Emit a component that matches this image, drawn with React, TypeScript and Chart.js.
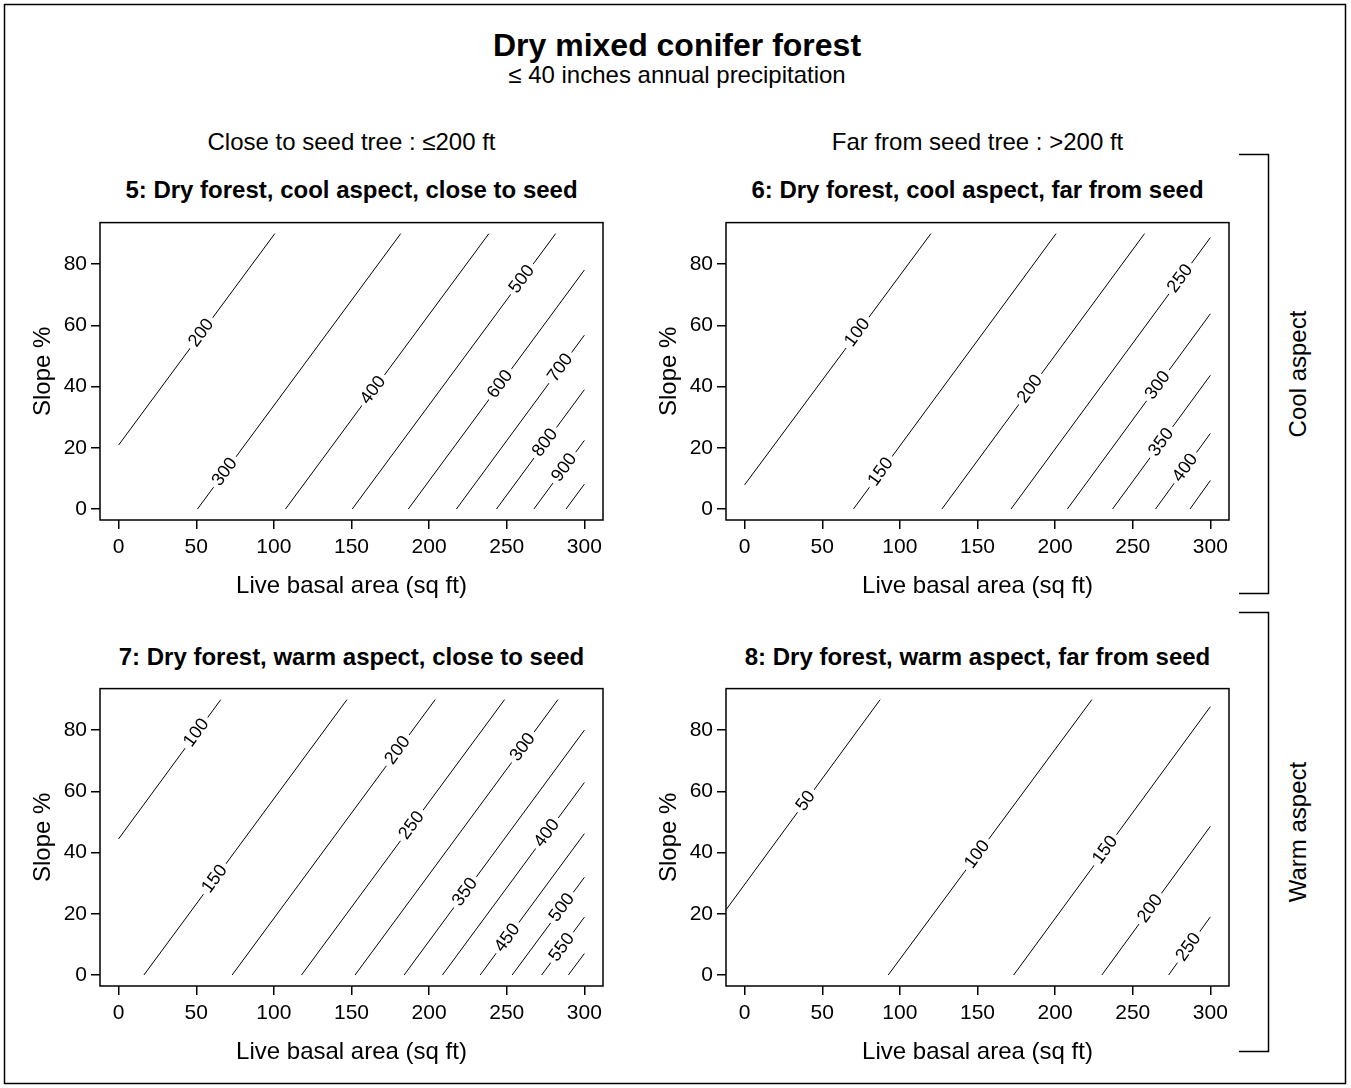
import React, { useEffect, useRef } from 'react';
import { Chart, registerables } from 'chart.js';

Chart.register(...registerables);

const FONT = '"Liberation Sans", Arial, Helvetica, sans-serif';

// Axes
const xTickValues = [0, 50, 100, 150, 200, 250, 300];
const yTickValues = [0, 20, 40, 60, 80];
const xMin = -12;
const xMax = 312;
const yMin = -3.6;
const yMax = 93.6;

// Panel 5: Dry forest, cool aspect, close to seed
const p5Levels = [200, 300, 400, 500, 600, 700, 800, 900, 1000];
const p5StartX = [0, 50.8, 107.5, 150.5, 186.6, 217.6, 243.4, 267.5, 288.2];
const p5StartY = [20.9, 0, 0, 0, 0, 0, 0, 0, 0];
const p5EndX = [100.6, 181.7, 238.5, 281.5, 300, 300, 300, 300, 300];
const p5EndY = [90, 90, 90, 90, 78.1, 56.8, 39, 22.4, 8.1];
const p5LabelX = [53.3, 68.4, 164, 259.8, 245.8, 284.5, 274.8, 287.1, null];

// Panel 6: Dry forest, cool aspect, far from seed
const p6Levels = [100, 150, 200, 250, 300, 350, 400, 450];
const p6StartX = [0, 70.1, 127.1, 171.6, 207.9, 237, 264.7, 286.9];
const p6StartY = [7.9, 0, 0, 0, 0, 0, 0, 0];
const p6EndX = [120, 200.6, 257.6, 300, 300, 300, 300, 300];
const p6EndY = [90, 90, 90, 88.7, 63.8, 43.7, 24.7, 9.3];
const p6LabelX = [72.7, 87.7, 183.9, 280.6, 266.2, 268.4, 283.9, null];

// Panel 7: Dry forest, warm aspect, close to seed
const p7Levels = [100, 150, 200, 250, 300, 350, 400, 450, 500, 550, 600];
const p7StartX = [0, 16.3, 73.1, 117.8, 152.3, 183.9, 208.6, 232.9, 253.5, 272.5, 289.7];
const p7StartY = [44.5, 0, 0, 0, 0, 0, 0, 0, 0, 0, 0];
const p7EndX = [65.8, 147.1, 203.9, 248.6, 283, 300, 300, 300, 300, 300, 300];
const p7EndY = [90, 90, 90, 90, 90, 80, 62.9, 46.2, 31.9, 18.9, 7];
const p7LabelX = [50.1, 61.9, 179.8, 188.8, 260.4, 223.2, 275.9, 250.5, 285.6, 285.6, null];

// Panel 8: Dry forest, warm aspect, far from seed
const p8Levels = [50, 100, 150, 200, 250];
const p8StartX = [-12, 92.5, 173.3, 230.1, 273.1];
const p8StartY = [21.3, 0, 0, 0, 0];
const p8EndX = [87.3, 223.7, 300, 300, 300];
const p8EndY = [90, 90, 87.7, 48.6, 19];
const p8LabelX = [39.4, 149.9, 232.3, 261.3, 286];

// Layout (pixels)
const BOX_W = 503;
const BOX_H = 304;
const AXIS_W = 100;
const AXIS_H = 85;
const PAD_T = 10;
const PAD_R = 10;

const boxPlugin = {
  id: 'boxFrame',
  afterDraw(chart: any) {
    const { ctx, chartArea } = chart;
    ctx.save();
    ctx.strokeStyle = '#000';
    ctx.lineWidth = 1.5;
    ctx.strokeRect(chartArea.left, chartArea.top, chartArea.right - chartArea.left, chartArea.bottom - chartArea.top);
    ctx.restore();
  },
};

const labelPlugin = {
  id: 'contourLabels',
  afterDatasetsDraw(chart: any) {
    const { ctx } = chart;
    const xs = chart.scales.x;
    const ys = chart.scales.y;
    ctx.save();
    ctx.font = `18px ${FONT}`;
    chart.data.datasets.forEach((ds: any) => {
      if (ds.labelX == null) return;
      const p0 = ds.data[0];
      const p1 = ds.data[1];
      const t = (ds.labelX - p0.x) / (p1.x - p0.x);
      const ly = p0.y + t * (p1.y - p0.y);
      const px = xs.getPixelForValue(ds.labelX);
      const py = ys.getPixelForValue(ly);
      const ang = Math.atan2(
        ys.getPixelForValue(p1.y) - ys.getPixelForValue(p0.y),
        xs.getPixelForValue(p1.x) - xs.getPixelForValue(p0.x)
      );
      const w = ctx.measureText(ds.label).width;
      ctx.save();
      ctx.translate(px, py);
      ctx.rotate(ang);
      ctx.fillStyle = '#fff';
      ctx.fillRect(-w / 2 - 4, -8, w + 8, 16);
      ctx.fillStyle = '#000';
      ctx.textAlign = 'center';
      ctx.textBaseline = 'middle';
      ctx.fillText(ds.label, 0, 0);
      ctx.restore();
    });
    ctx.restore();
  },
};

type PanelProps = {
  levels: number[];
  sx: number[];
  sy: number[];
  ex: number[];
  ey: number[];
  lx: (number | null)[];
  left: number;
  top: number;
};

function Panel({ levels, sx, sy, ex, ey, lx, left, top }: PanelProps) {
  const ref = useRef<HTMLCanvasElement>(null);
  const W = AXIS_W + BOX_W + PAD_R;
  const H = PAD_T + BOX_H + AXIS_H;
  useEffect(() => {
    const chart = new Chart(ref.current as HTMLCanvasElement, {
      type: 'scatter',
      data: {
        datasets: levels.map((lv, i) => ({
          label: String(lv),
          data: [
            { x: sx[i], y: sy[i] },
            { x: ex[i], y: ey[i] },
          ],
          showLine: true,
          borderColor: '#000',
          borderWidth: 1,
          pointRadius: 0,
          fill: false,
          labelX: lx[i],
        })) as any,
      },
      options: {
        animation: false,
        responsive: false,
        maintainAspectRatio: false,
        events: [],
        layout: { padding: { left: 0, right: PAD_R, top: PAD_T, bottom: 0 } },
        plugins: {
          legend: { display: false },
          tooltip: { enabled: false },
          title: { display: false },
        },
        scales: {
          x: {
            type: 'linear',
            min: xMin,
            max: xMax,
            afterBuildTicks: (s: any) => {
              s.ticks = xTickValues.map((v) => ({ value: v }));
            },
            afterFit: (s: any) => {
              s.height = AXIS_H;
            },
            grid: { drawOnChartArea: false, drawTicks: true, tickLength: 9, color: '#000', lineWidth: 1.5 },
            border: { display: false },
            ticks: { padding: 6, color: '#000', font: { family: FONT, size: 21 }, autoSkip: false, maxRotation: 0 },
            title: {
              display: true,
              text: 'Live basal area (sq ft)',
              color: '#000',
              font: { family: FONT, size: 24 },
              padding: { top: 0, bottom: 4 },
            },
          },
          y: {
            type: 'linear',
            min: yMin,
            max: yMax,
            afterBuildTicks: (s: any) => {
              s.ticks = yTickValues.map((v) => ({ value: v }));
            },
            afterFit: (s: any) => {
              s.width = AXIS_W;
            },
            grid: { drawOnChartArea: false, drawTicks: true, tickLength: 9, color: '#000', lineWidth: 1.5 },
            border: { display: false },
            ticks: { padding: 4, color: '#000', font: { family: FONT, size: 21 }, autoSkip: false },
            title: {
              display: true,
              text: 'Slope %',
              color: '#000',
              font: { family: FONT, size: 24 },
              padding: { top: 29, bottom: 0 },
            },
          },
        },
      } as any,
      plugins: [boxPlugin, labelPlugin],
    });
    return () => chart.destroy();
  }, []);
  return (
    <canvas
      ref={ref}
      width={W}
      height={H}
      style={{ position: 'absolute', left: left - AXIS_W, top: top - PAD_T, width: W, height: H }}
    />
  );
}

function Txt({ x, y, size, bold, rotate, children }: any) {
  return (
    <div
      style={{
        position: 'absolute',
        left: x,
        top: y,
        transform: `translate(-50%, -50%)${rotate ? ' rotate(-90deg)' : ''}`,
        fontFamily: FONT,
        fontSize: size,
        fontWeight: bold ? 'bold' : 'normal',
        lineHeight: `${size}px`,
        whiteSpace: 'nowrap',
        color: '#000',
      }}
    >
      {children}
    </div>
  );
}

export default function App() {
  const colLeft = [100, 726];
  const rowTop = [216, 682];
  return (
    <div style={{ position: 'absolute', left: 0, top: 0, width: 1351, height: 1088, background: '#fff', overflow: 'hidden' }}>
      <svg width={1351} height={1088} style={{ position: 'absolute', left: 0, top: 0 }}>
        <rect x={4.5} y={4.5} width={1341} height={1079} fill="none" stroke="#000" strokeWidth={1.5} />
        <polyline points="1239,154.5 1268.5,154.5 1268.5,593.5 1239,593.5" fill="none" stroke="#000" strokeWidth={1.5} />
        <polyline points="1239,612.5 1268.5,612.5 1268.5,1051.5 1239,1051.5" fill="none" stroke="#000" strokeWidth={1.5} />
      </svg>
      <Txt x={677} y={45} size={32} bold>Dry mixed conifer forest</Txt>
      <Txt x={677} y={75} size={24}>≤ 40 inches annual precipitation</Txt>
      <Txt x={351.5} y={142} size={24}>Close to seed tree : ≤200 ft</Txt>
      <Txt x={977.5} y={142} size={24}>Far from seed tree : &gt;200 ft</Txt>
      <Txt x={351.5} y={190} size={24} bold>5: Dry forest, cool aspect, close to seed</Txt>
      <Txt x={977.5} y={190} size={24} bold>6: Dry forest, cool aspect, far from seed</Txt>
      <Txt x={351.5} y={657} size={24} bold>7: Dry forest, warm aspect, close to seed</Txt>
      <Txt x={977.5} y={657} size={24} bold>8: Dry forest, warm aspect, far from seed</Txt>
      <Txt x={1298} y={373.5} size={24} rotate>Cool aspect</Txt>
      <Txt x={1298} y={831.5} size={24} rotate>Warm aspect</Txt>
      <Panel levels={p5Levels} sx={p5StartX} sy={p5StartY} ex={p5EndX} ey={p5EndY} lx={p5LabelX} left={colLeft[0]} top={rowTop[0]} />
      <Panel levels={p6Levels} sx={p6StartX} sy={p6StartY} ex={p6EndX} ey={p6EndY} lx={p6LabelX} left={colLeft[1]} top={rowTop[0]} />
      <Panel levels={p7Levels} sx={p7StartX} sy={p7StartY} ex={p7EndX} ey={p7EndY} lx={p7LabelX} left={colLeft[0]} top={rowTop[1]} />
      <Panel levels={p8Levels} sx={p8StartX} sy={p8StartY} ex={p8EndX} ey={p8EndY} lx={p8LabelX} left={colLeft[1]} top={rowTop[1]} />
    </div>
  );
}
